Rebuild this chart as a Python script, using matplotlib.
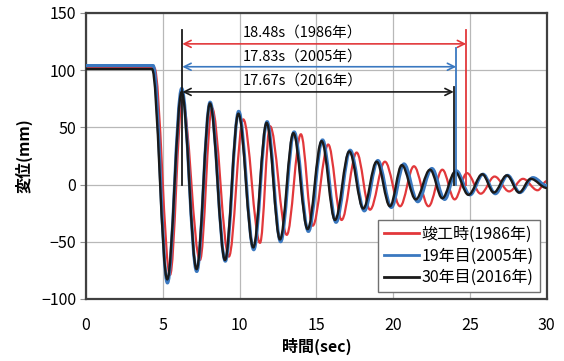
import matplotlib.pyplot as plt
from matplotlib.path import Path
from matplotlib.patches import PathPatch
from matplotlib.lines import Line2D

plt.rcParams['font.family'] = ['Noto Sans CJK JP', 'DejaVu Sans']

# 変位の極値（山・谷）の時刻と値
t_1986 = [0, 4.45, 5.47, 6.27, 7.42, 8.20, 9.30, 10.24, 11.33, 11.98, 13.07, 13.99,
          14.76, 15.77, 16.64, 17.62, 18.49, 19.46, 20.45, 21.35, 22.30, 23.20,
          24.00, 24.80, 25.70, 26.60, 27.55, 28.45, 29.40, 30.0]
d_1986 = [102, 102, -79, 74, -66, 67, -63, 57, -51, 51, -44, 44,
          -36, 35, -31, 28, -22, 20, -19, 16, -19, 13,
          -13, 10, -8, 7, -6, 5, -5, 3]

t_2005 = [0, 4.37, 5.30, 6.23, 7.21, 8.08, 9.07, 9.94, 10.92, 11.79, 12.67, 13.55,
          14.48, 15.40, 16.28, 17.20, 18.12, 19.00, 19.88, 20.70, 21.60, 22.52,
          23.35, 24.10, 25.00, 25.85, 26.65, 27.45, 28.25, 29.10, 30.0]
d_2005 = [104, 104, -86, 84, -76, 72, -67, 64, -57, 55, -50, 46,
          -41, 39, -33, 30, -23, 21, -20, 18, -15, 14,
          -13, 12, -9, 9, -8, 8, -7, 6, -1]

t_2016 = [0, 4.30, 5.29, 6.23, 7.20, 8.07, 9.05, 9.92, 10.89, 11.76, 12.63, 13.50,
          14.43, 15.34, 16.21, 17.14, 18.05, 18.92, 19.79, 20.56, 21.47, 22.40,
          23.20, 24.03, 24.90, 25.80, 26.55, 27.40, 28.20, 28.95, 30.0]
d_2016 = [101, 101, -83, 81, -74, 71, -66, 62, -55, 54, -48, 45,
          -39, 38, -31, 29, -21, 20, -19, 17, -13, 13,
          -12, 11, -9, 9, -7, 8, -7, 5, -3]

# 固有周期の計測区間
periods = [18.48, 17.83, 17.67]
years = ['1986年', '2005年', '2016年']
labels = ['竣工時(1986年)', '19年目(2005年)', '30年目(2016年)']
colors = ['#e2383b', '#3a78c0', '#1a1a1a']
t_start = 6.27
arrow_y = [123, 103, 81]
text_y = [133, 111.5, 91]
vline_top = [135, 119, 85]


def wave_path(ts, vs, k=0.36):
    verts = [(ts[0], vs[0])]
    codes = [Path.MOVETO]
    for i in range(1, len(ts)):
        t0, v0, t1, v1 = ts[i - 1], vs[i - 1], ts[i], vs[i]
        if v0 == v1:
            verts.append((t1, v1))
            codes.append(Path.LINETO)
        else:
            dt = t1 - t0
            verts += [(t0 + k * dt, v0), (t1 - k * dt, v1), (t1, v1)]
            codes += [Path.CURVE4] * 3
    return Path(verts, codes)


fig = plt.figure(figsize=(5.64, 3.61), dpi=100)
ax = fig.add_axes([0.1525, 0.172, 0.817, 0.792])

series = [(t_1986, d_1986, 1.6, 2), (t_2005, d_2005, 2.3, 3), (t_2016, d_2016, 1.7, 4)]
for (ts, vs, lw, z), c in zip(series, colors):
    ax.add_patch(PathPatch(wave_path(ts, vs), facecolor='none', edgecolor=c,
                           lw=lw, zorder=z, capstyle='round', joinstyle='round'))

# 計測区間の矢印と縦線
ax.plot([t_start, t_start], [0, 135], color='#1a1a1a', lw=1.3, zorder=5)
for p, yr, c, ay, ty, vt in zip(periods, years, colors, arrow_y, text_y, vline_top):
    t_end = t_start + p
    ax.annotate('', xy=(t_end, ay), xytext=(t_start, ay),
                arrowprops=dict(arrowstyle='<->,head_length=0.5,head_width=0.25',
                                color=c, lw=1.2, shrinkA=0, shrinkB=0), zorder=5)
    ax.plot([t_end, t_end], [0, vt], color=c, lw=1.3, zorder=5)
    ax.text(10.2, ty, f'{p:.2f}s（{yr}）', fontsize=10.5, va='center', ha='left', zorder=6)

ax.set_xlim(0, 30)
ax.set_ylim(-100, 150)
ax.set_xticks(range(0, 31, 5))
ax.set_yticks(range(-100, 151, 50))
ax.grid(True, color='#b8b8b8', lw=0.9)
ax.set_axisbelow(True)
for s in ax.spines.values():
    s.set_color('#404040')
    s.set_linewidth(1.6)
ax.tick_params(axis='y', length=4, color='#909090', labelsize=11.5, pad=3)
ax.tick_params(axis='x', length=0, labelsize=11.5, pad=13)

ax.set_xlabel('時間(sec)', fontsize=11.5, fontweight='bold', labelpad=3)
ax.set_ylabel('変位(mm)', fontsize=11.5, fontweight='bold', labelpad=6)

handles = [Line2D([0], [0], color=c, lw=2) for c in colors]
leg = ax.legend(handles, labels, loc='lower right', fontsize=11.5, frameon=True,
                fancybox=False, edgecolor='#707070', framealpha=1,
                handlelength=2.2, handletextpad=0.2, borderaxespad=0.45,
                labelspacing=0.3, borderpad=0.35)
leg.get_frame().set_linewidth(1.0)

fig.savefig('out.png', dpi=100)
